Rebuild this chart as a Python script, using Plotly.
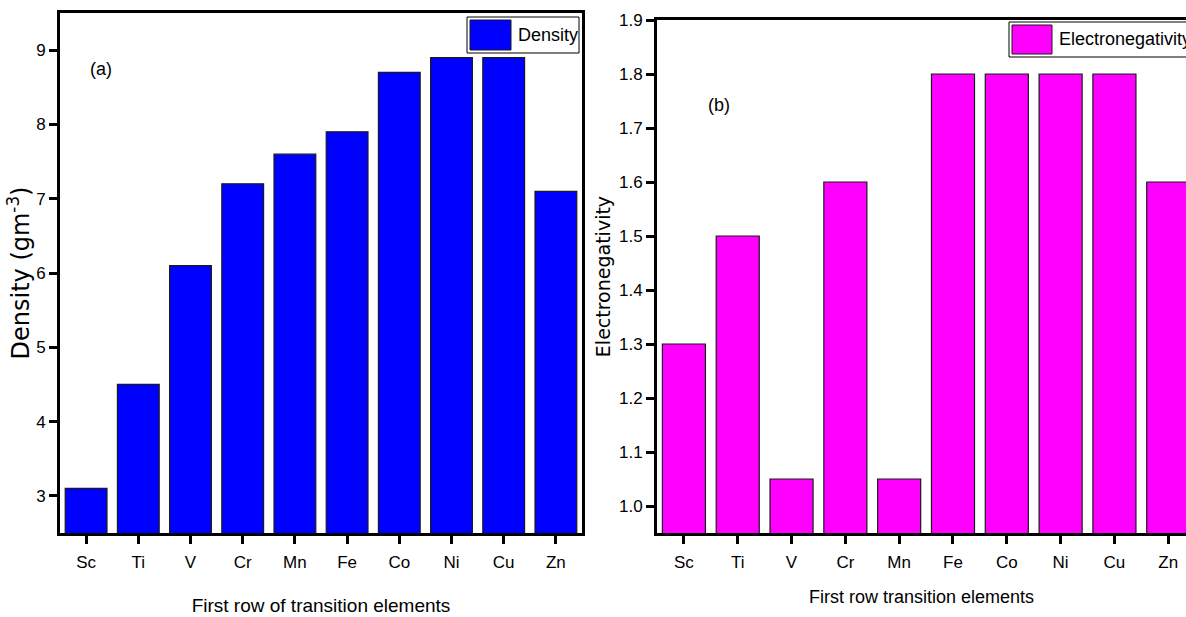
import plotly.graph_objects as go

# Element labels and property values
elements = ["Sc", "Ti", "V", "Cr", "Mn", "Fe", "Co", "Ni", "Cu", "Zn"]
density = [3.1, 4.5, 6.1, 7.2, 7.6, 7.9, 8.7, 8.9, 8.9, 7.1]
electronegativity = [1.3, 1.5, 1.05, 1.6, 1.05, 1.8, 1.8, 1.8, 1.8, 1.6]

density_ticks = [3, 4, 5, 6, 7, 8, 9]
en_ticks = [1.0, 1.1, 1.2, 1.3, 1.4, 1.5, 1.6, 1.7, 1.8, 1.9]

W, H = 1186, 617
SANS = "Liberation Sans, Arial, sans-serif"
WIDE = "DejaVu Sans, Liberation Sans, Arial, sans-serif"


def px_x(x):
    return x / W


def px_y(y):
    return 1 - y / H


fig = go.Figure()

fig.add_trace(go.Bar(
    x=elements, y=density, name="Density", xaxis="x", yaxis="y",
    marker=dict(color="#0000FF", line=dict(color="#1a1a1a", width=1.2)),
    showlegend=False,
))
fig.add_trace(go.Bar(
    x=elements, y=electronegativity, name="Electronegativity", xaxis="x2", yaxis="y2",
    marker=dict(color="#FF00FF", line=dict(color="#1a1a1a", width=1.2)),
    showlegend=False,
))

axis_common = dict(
    showline=True, linecolor="black", linewidth=3,
    ticks="outside", ticklen=8, tickwidth=2.5, tickcolor="black",
    showgrid=False, zeroline=False, automargin=False,
    tickfont=dict(family=SANS, size=17, color="black"),
)

fig.update_layout(
    width=W, height=H,
    margin=dict(l=0, r=0, t=0, b=0),
    paper_bgcolor="white", plot_bgcolor="white",
    bargap=0.2,
    xaxis=dict(
        domain=[px_x(60), px_x(582)], anchor="y",
        range=[-0.5, 9.5], mirror=True, ticklabelstandoff=4,
        title=dict(text="First row of transition elements",
                   font=dict(family=SANS, size=19, color="black"), standoff=28),
        **axis_common,
    ),
    yaxis=dict(
        domain=[px_y(533), px_y(13)], anchor="x",
        range=[2.5, 9.5], tickvals=density_ticks, mirror=True,
        title=dict(text="Density (gm<sup>-3</sup>)",
                   font=dict(family=WIDE, size=24, color="black"), standoff=0),
        **axis_common,
    ),
    xaxis2=dict(
        domain=[px_x(657), 1.0], anchor="y2",
        range=[-0.5, 9.33], mirror=True, ticklabelstandoff=4,
        title=dict(text="First row transition elements",
                   font=dict(family=SANS, size=18, color="black"), standoff=19),
        **axis_common,
    ),
    yaxis2=dict(
        domain=[px_y(533), px_y(20)], anchor="x2",
        range=[0.95, 1.9], tickvals=en_ticks, tickformat=".1f", mirror=False,
        title=dict(text="Electronegativity",
                   font=dict(family=WIDE, size=19, color="black"), standoff=4),
        **axis_common,
    ),
)

# Panel labels
fig.add_annotation(x=px_x(101), y=px_y(69), xref="paper", yref="paper",
                   xanchor="center", yanchor="middle",
                   text="(a)", showarrow=False,
                   font=dict(family=SANS, size=18, color="black"))
fig.add_annotation(x=px_x(719), y=px_y(105), xref="paper", yref="paper",
                   xanchor="center", yanchor="middle",
                   text="(b)", showarrow=False,
                   font=dict(family=SANS, size=18, color="black"))

# Legend boxes with large swatches
legend_items = [
    # (box x0, box x1, box y0, box y1, swatch x0, swatch x1, swatch y0, swatch y1, text x, color, text)
    (467, 579, 17, 53, 470, 511, 20, 50, 516, "#0000FF", "Density"),
    (1009, 1200, 22, 57, 1012, 1052, 25, 54, 1057, "#FF00FF", "Electronegativity"),
]
for bx0, bx1, by0, by1, sx0, sx1, sy0, sy1, tx, col, label in legend_items:
    fig.add_shape(type="rect", xref="paper", yref="paper",
                  x0=px_x(bx0), x1=px_x(bx1), y0=px_y(by1), y1=px_y(by0),
                  line=dict(color="black", width=1), fillcolor="white", layer="above")
    fig.add_shape(type="rect", xref="paper", yref="paper",
                  x0=px_x(sx0), x1=px_x(sx1), y0=px_y(sy1), y1=px_y(sy0),
                  line=dict(color="#1a1a1a", width=1), fillcolor=col, layer="above")
    fig.add_annotation(x=px_x(tx), y=px_y((by0 + by1) / 2), xref="paper", yref="paper",
                       xanchor="left", yanchor="middle", text=label, showarrow=False,
                       font=dict(family=SANS, size=18, color="black"))

fig.write_html("out.html")
